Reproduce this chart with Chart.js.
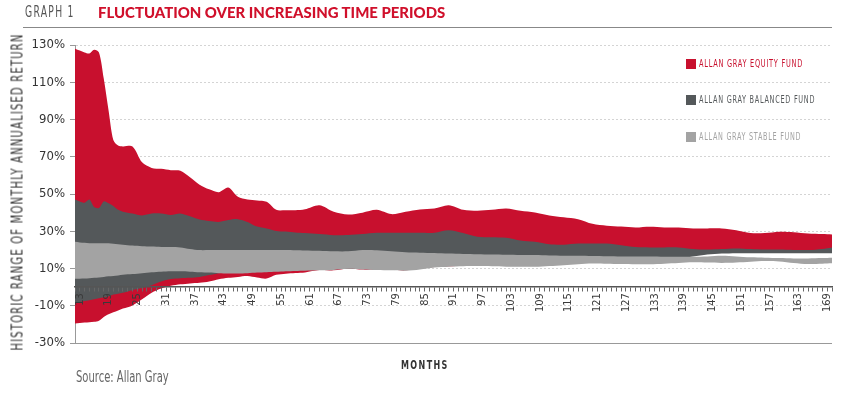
<!DOCTYPE html>
<html>
<head>
<meta charset="utf-8">
<script src="https://cdn.jsdelivr.net/npm/chart.js@4"></script>
<style>
body{margin:0;background:#fff;width:850px;height:398px;position:relative;overflow:hidden;
  font-family:"DejaVu Sans Condensed","DejaVu Sans",sans-serif;}
#c{position:absolute;left:0;top:0;}
.t{position:absolute;white-space:nowrap;line-height:1;transform-origin:left top;}
#graph{left:25px;top:4px;font-size:16px;color:#555;letter-spacing:2px;}
#title{left:98px;top:5px;font-family:Lato,sans-serif;font-weight:900;font-size:15px;color:#d0102b;}
#rule{position:absolute;left:23px;top:27px;width:809px;height:1px;background:#888;}
#ytitle{left:18px;top:192px;transform-origin:center center;font-size:15px;color:#333;letter-spacing:1.5px;}
.sq{position:absolute;left:686px;width:10px;height:10px;}
.lg{left:699px;font-size:10px;letter-spacing:1px;}
#months{left:401px;top:358px;font-size:13px;font-weight:bold;color:#333;letter-spacing:2px;}
#source{left:76px;top:369px;font-size:16px;color:#666;}
</style>
</head>
<body>
<canvas id="c" width="850" height="398"></canvas>
<div class="t" id="graph">GRAPH 1</div>
<div class="t" id="title">FLUCTUATION OVER INCREASING TIME PERIODS</div>
<div id="rule"></div>
<div class="t" id="ytitle">HISTORIC RANGE OF MONTHLY ANNUALISED RETURN</div>
<div class="sq" style="top:59px;background:#c8102e"></div>
<div class="t lg" id="lg1" style="top:59px;color:#c8102e">ALLAN GRAY EQUITY FUND</div>
<div class="sq" style="top:95px;background:#54585a"></div>
<div class="t lg" id="lg2" style="top:95px;color:#54585a">ALLAN GRAY BALANCED FUND</div>
<div class="sq" style="top:132px;background:#a3a3a3"></div>
<div class="t lg" id="lg3" style="top:132px;color:#a3a3a3">ALLAN GRAY STABLE FUND</div>
<div class="t" id="months">MONTHS</div>
<div class="t" id="source">Source: Allan Gray</div>
<script>
const months = [12,13,14,15,16,17,18,19,20,21,22,
  24,26,28,30,32,34,36,38,40,42,44,46,48,50,52,54,56,58,60,
  63,66,69,72,75,78,81,84,87,90,93,96,99,102,105,108,111,114,117,120,123,126,129,132,135,138,141,144,147,150,153,156,159,162,165,168,
  170];

const equityHigh = [128,127,126,125.5,127.5,126,112,95,79,76,75.5,
  75.5,67,64,63.5,62.8,62.5,59,55,52.5,51,53.5,48.5,47,46.5,45.8,41.5,41.3,41.3,41.8,
  44,40.5,39,40,41.5,39.2,40.5,41.7,42.2,44,41.5,41,41.5,42.2,41,40.1,38.5,37.5,36.5,34,33,32.5,32,32.4,32,32,31.5,31.5,31.5,30.5,29,29,29.7,29.5,28.8,28.5,
  28.3];
const equityLow = [-19.5,-19.3,-19,-18.8,-18.6,-18,-16,-14.5,-13.5,-12.5,-11.5,
  -9.8,-6.5,-3,-0.8,0.7,1.5,2,2.3,3,4.2,5,5.5,6,5.2,4.6,6.6,7.2,7.6,7.9,
  9.2,9,10,9.4,9.5,9.3,9,10,10.8,11.2,11.5,11.7,12,12,12,12,12.5,13,13.2,13.5,14,14.3,14.8,15,15.5,16,16.8,18,18.5,18.6,18.7,18.7,18.8,18.8,18.8,18.8,
  18.8];

const balancedHigh = [47,46,45.3,47,43,42.5,46,45,43.5,41.5,40.5,
  39.5,38.5,39.5,39.5,38.7,39.5,38,36.3,35.5,35,36,36.5,35,32.5,31.5,30.2,29.8,29.3,29,
  28.5,27.9,28,28.5,29.2,29.2,29.2,29.2,29.2,30.5,29,27,26.8,26.5,25,24.3,23,22.8,23.4,23.4,23.4,22.5,21.5,21.3,21.3,21.3,20.5,20.2,20.5,20.8,20.5,20.2,20.2,20,19.9,20.5,
  21.3];
const balancedLow = [-8,-8,-7.5,-7,-6.5,-6,-5.5,-5,-4,-3.5,-3,
  -1.5,-0.5,1,3,4.3,4.8,5,5.5,6.5,7.5,8,8,8.5,9,9,9,9.5,9.5,9.5,
  10,10,10,10,10,10,10,11,11.5,12,12,12,12,12,12,12,12.5,13,13,13.5,14,14,14.5,14.5,15,15.5,16.5,17.5,18,18.2,18.2,18.2,18.2,18.2,18.2,18.2,
  18.2];

const stableHigh = [24.3,24,23.8,23.6,23.5,23.5,23.5,23.5,23.3,23,22.8,
  22.3,22,21.8,21.6,21.5,21.3,20.5,19.9,19.9,19.9,19.9,19.9,19.9,19.9,19.9,19.9,19.9,19.8,19.7,
  19.5,19.2,19.2,19.9,19.8,19.2,18.7,18.5,18.3,18,17.8,17.7,17.5,17.4,17.3,17.2,17,16.9,16.8,16.7,16.6,16.5,16.4,16.4,16.3,16.3,16.3,16.5,16.8,16.5,16,15.8,15.6,15.4,15.4,15.6,
  15.8];
const stableLow = [4.5,4.5,4.6,4.8,5,5.2,5.5,5.8,6,6.3,6.6,
  7,7.5,8,8.3,8.5,8.5,8.3,8,7.8,7.5,7.3,7.3,7.5,7.8,8,8.2,8.5,8.7,8.8,
  9,9.2,9.8,9.5,9.2,9,8.8,9.5,10.6,11,11.2,11.3,11.2,11,11,10.9,11.3,11.8,12.3,12.7,12.6,12.4,12.3,12.3,12.6,13,13.3,13.2,13,13.2,13.6,14,13.8,13,12.4,12.6,
  12.8];

const yTicks = [-30, -10, 10, 30, 50, 70, 90, 110, 130];
const firstLabel = 13, labelStep = 6;

const RED = '#c8102e', DARK = '#54585a', LIGHT = '#a3a3a3';
const FONT = '"DejaVu Sans Condensed","DejaVu Sans",sans-serif';

// squeeze the html labels to the widths they have in the print version
function fit(id, w, base) {
  const el = document.getElementById(id);
  const k = w / el.offsetWidth;
  el.style.transform = (base || '') + ' scaleX(' + k + ')';
}
fit('graph', 50);
fit('title', 347);
fit('lg1', 104);
fit('lg2', 116);
fit('lg3', 102);
fit('months', 48);
fit('source', 93);
fit('ytitle', 317, 'translate(-50%,-50%) rotate(-90deg)');

function pts(vals) {
  return months.map((m, i) => ({x: m, y: vals[i]}));
}

function band(hi, lo, color) {
  return [
    {data: pts(hi), backgroundColor: color, borderWidth: 0, fill: '+1'},
    {data: pts(lo), backgroundColor: color, borderWidth: 0, fill: false}
  ];
}

// first datasets are painted last, so the stable band sits on top
const datasets = [
  ...band(stableHigh, stableLow, LIGHT),
  ...band(balancedHigh, balancedLow, DARK),
  ...band(equityHigh, equityLow, RED)
];

new Chart(document.getElementById('c').getContext('2d'), {
  type: 'line',
  data: {datasets: datasets},
  options: {
    responsive: false,
    animation: false,
    devicePixelRatio: 1,
    layout: {padding: {top: 45, right: 18, bottom: 55, left: 0}},
    plugins: {legend: {display: false}, tooltip: {enabled: false}},
    elements: {point: {radius: 0}, line: {tension: 0.3, borderWidth: 0}},
    scales: {
      x: {
        type: 'linear', min: months[0], max: months[months.length - 1],
        position: {y: 0},
        ticks: {
          z: 1,
          stepSize: 1, autoSkip: false, minRotation: 90, maxRotation: 90, padding: 2,
          color: '#3a3a3a', font: {family: FONT, size: 11},
          callback: v => (v - firstLabel) % labelStep === 0 ? String(v) : ''
        },
        grid: {z: 1, drawOnChartArea: false, tickLength: 4, color: '#666'},
        border: {z: 1, color: '#555', width: 1.5}
      },
      y: {
        min: yTicks[0], max: yTicks[yTicks.length - 1],
        afterBuildTicks: s => { s.ticks = yTicks.map(v => ({value: v})); },
        afterFit: s => { s.width = 75; },
        ticks: {padding: 5, color: '#333', font: {family: FONT, size: 13}, callback: v => v + '%'},
        grid: {
          color: ctx => ctx.tick && ctx.tick.value === yTicks[0] ? '#999' : '#d4d4d4',
          tickColor: '#999', tickLength: 5
        },
        border: {color: '#999', dash: ctx => ctx.tick && ctx.tick.value !== yTicks[0] ? [2, 2] : []}
      }
    }
  }
});
</script>
</body>
</html>
